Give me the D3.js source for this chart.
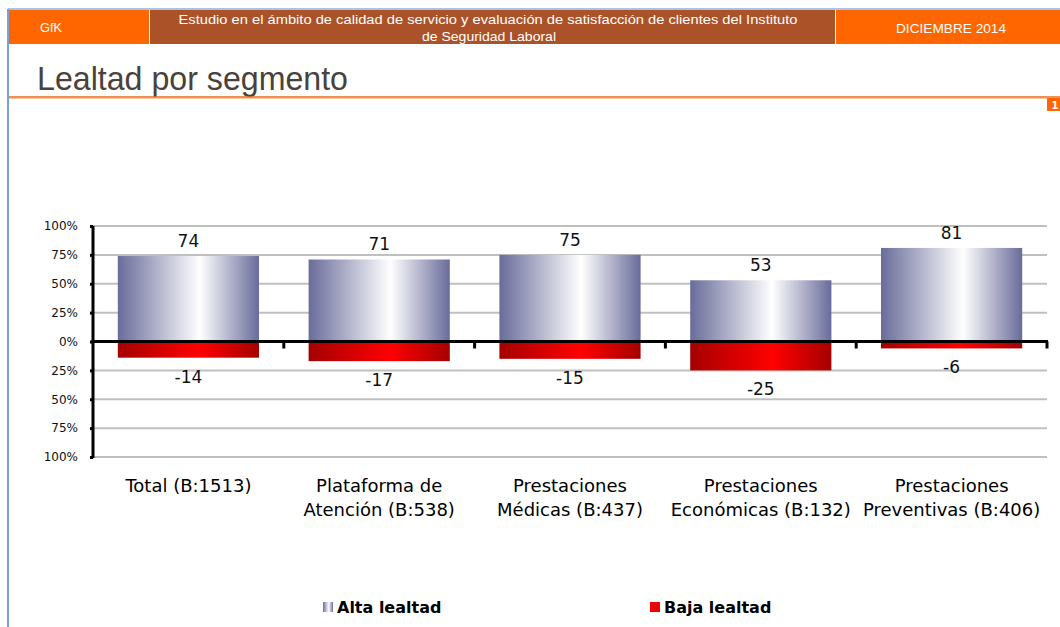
<!DOCTYPE html>
<html>
<head>
<meta charset="utf-8">
<script src="https://cdn.jsdelivr.net/npm/d3@7"></script>
<style>
  body { margin: 0; background: #fff; }
  svg { display: block; }
</style>
</head>
<body>
<div id="chart"></div>
<script>
// ---- data ----
const categories = [
  ["Total (B:1513)"],
  ["Plataforma de", "Atención (B:538)"],
  ["Prestaciones", "Médicas (B:437)"],
  ["Prestaciones", "Económicas (B:132)"],
  ["Prestaciones", "Preventivas (B:406)"]
];
const alta = [74, 71, 75, 53, 81];
const baja = [-14, -17, -15, -25, -6];
const yTicks = [-100, -75, -50, -25, 0, 25, 50, 75, 100];
const seriesNames = ["Alta lealtad", "Baja lealtad"];

const W = 1060, H = 627;
const svg = d3.select("#chart").append("svg")
  .attr("width", W).attr("height", H);

// gradients
const defs = svg.append("defs");
function grad(id, edge, mid) {
  const g = defs.append("linearGradient").attr("id", id)
    .attr("x1", "0%").attr("x2", "100%").attr("y1", "0%").attr("y2", "0%");
  g.append("stop").attr("offset", "0%").attr("stop-color", edge);
  g.append("stop").attr("offset", "58%").attr("stop-color", mid);
  g.append("stop").attr("offset", "100%").attr("stop-color", edge);
}
grad("gAlta", "#696c9a", "#ffffff");
grad("gBaja", "#a50000", "#ff0000");

// =====================
// PAGE FRAME / HEADER
// =====================
svg.append("line").attr("x1", 8).attr("x2", W).attr("y1", 9).attr("y2", 9)
  .attr("stroke", "#8fb0de").attr("stroke-width", 1.5);
svg.append("line").attr("x1", 8).attr("x2", 8).attr("y1", 9).attr("y2", H)
  .attr("stroke", "#7aa0d8").attr("stroke-width", 2);

svg.append("rect").attr("x", 9).attr("y", 10).attr("width", 140).attr("height", 34).attr("fill", "#ff6600");
svg.append("rect").attr("x", 150).attr("y", 10).attr("width", 685).attr("height", 34).attr("fill", "#ac5229");
svg.append("rect").attr("x", 836).attr("y", 10).attr("width", 224).attr("height", 34).attr("fill", "#ff6600");

const hdrFont = "Liberation Sans, Arial, sans-serif";
function hdrText(tx, ty, str, len) {
  svg.append("text").attr("x", tx).attr("y", ty).attr("text-anchor", "middle")
    .style("font-family", hdrFont).style("font-size", "13px").attr("fill", "#fff")
    .attr("textLength", len).attr("lengthAdjust", "spacingAndGlyphs")
    .text(str);
}
hdrText(51, 32, "GfK", 22);
hdrText(488, 24, "Estudio en el ámbito de calidad de servicio y evaluación de satisfacción de clientes del Instituto", 619);
hdrText(489, 41, "de Seguridad Laboral", 134);
hdrText(951, 33, "DICIEMBRE 2014", 110);

svg.append("text").attr("x", 37).attr("y", 90)
  .style("font-family", hdrFont).style("font-size", "34px").attr("fill", "#4a423a")
  .attr("textLength", 311).attr("lengthAdjust", "spacingAndGlyphs")
  .text("Lealtad por segmento");
svg.append("line").attr("x1", 9).attr("x2", W).attr("y1", 97).attr("y2", 97)
  .attr("stroke", "#ec6a1e").attr("stroke-width", 1.5);
svg.append("line").attr("x1", 9).attr("x2", W).attr("y1", 98.5).attr("y2", 98.5)
  .attr("stroke", "#f8c8a0").attr("stroke-width", 1);

svg.append("rect").attr("x", 1047).attr("y", 98).attr("width", 13).attr("height", 13).attr("fill", "#ff6600");
svg.append("text").attr("x", 1055).attr("y", 109).attr("text-anchor", "middle")
  .style("font-family", "DejaVu Sans, sans-serif").style("font-size", "10px").style("font-weight", "bold")
  .attr("fill", "#fff").text("1");

// =====================
// SCALES
// =====================
const font = "DejaVu Sans, Verdana, sans-serif";
const x0 = 93, x1 = 1047;
const x = d3.scaleBand()
  .domain(d3.range(categories.length))
  .range([x0, x1])
  .paddingInner(0.26)
  .paddingOuter(0.13);
const y = d3.scaleLinear().domain([-100, 100]).range([457, 226]);

// grid
svg.append("g").selectAll("line")
  .data(yTicks.filter(t => t !== 0))
  .join("line")
  .attr("x1", x0).attr("x2", x1)
  .attr("y1", d => y(d)).attr("y2", d => y(d))
  .attr("stroke", "#c0c0c0").attr("stroke-width", 2);

// y axis
const yAxis = svg.append("g")
  .attr("transform", `translate(${x0},0)`)
  .call(d3.axisLeft(y).tickValues(yTicks).tickSize(3).tickPadding(12)
    .tickFormat(d => Math.abs(d) + "%"));
yAxis.select(".domain").remove();
yAxis.selectAll(".tick line").attr("stroke", "#000").attr("stroke-width", 3);
yAxis.selectAll("text").style("font-family", font).style("font-size", "12px").attr("fill", "#111");

// =====================
// BARS
// =====================
svg.append("g").selectAll("rect")
  .data(alta)
  .join("rect")
  .attr("x", (d, i) => x(i))
  .attr("width", x.bandwidth())
  .attr("y", d => y(d))
  .attr("height", d => y(0) - y(d))
  .attr("fill", "url(#gAlta)");

svg.append("g").selectAll("rect")
  .data(baja)
  .join("rect")
  .attr("x", (d, i) => x(i))
  .attr("width", x.bandwidth())
  .attr("y", y(0))
  .attr("height", d => y(d) - y(0))
  .attr("fill", "url(#gBaja)");

// axis lines
svg.append("line").attr("x1", x0).attr("x2", x0).attr("y1", y(100)).attr("y2", y(-100) + 1)
  .attr("stroke", "#000").attr("stroke-width", 3);
svg.append("line").attr("x1", x0).attr("x2", x1 + 1).attr("y1", y(0)).attr("y2", y(0))
  .attr("stroke", "#000").attr("stroke-width", 3);

// category boundary ticks
const step = x.step();
svg.append("g").selectAll("line")
  .data(d3.range(1, categories.length + 1))
  .join("line")
  .attr("x1", i => x(i - 1) + x.bandwidth() + step * 0.13)
  .attr("x2", i => x(i - 1) + x.bandwidth() + step * 0.13)
  .attr("y1", y(0)).attr("y2", y(0) + 7)
  .attr("stroke", "#000").attr("stroke-width", 3);

// value labels
svg.append("g").selectAll("text")
  .data(alta)
  .join("text")
  .attr("x", (d, i) => x(i) + x.bandwidth() / 2)
  .attr("y", d => y(d) - 9)
  .attr("text-anchor", "middle")
  .style("font-family", font).style("font-size", "17px").attr("fill", "#111")
  .text(d => d);

svg.append("g").selectAll("text")
  .data(baja)
  .join("text")
  .attr("x", (d, i) => x(i) + x.bandwidth() / 2)
  .attr("y", d => y(d) + 25)
  .attr("text-anchor", "middle")
  .style("font-family", font).style("font-size", "17px").attr("fill", "#111")
  .text(d => d);

// category labels
const cat = svg.append("g").selectAll("text")
  .data(categories)
  .join("text")
  .attr("text-anchor", "middle")
  .style("font-family", font).style("font-size", "18px").attr("fill", "#000");
cat.selectAll("tspan")
  .data((d, i) => d.map(line => ({ line, i })))
  .join("tspan")
  .attr("x", d => x(d.i) + x.bandwidth() / 2)
  .attr("y", (d, j) => 492 + j * 24)
  .text(d => d.line);

// =====================
// LEGEND
// =====================
const legendX = [323, 650];
const legendFill = ["url(#gAlta)", "#ee0000"];
const lg = svg.append("g").selectAll("g")
  .data(seriesNames)
  .join("g")
  .attr("transform", (d, i) => `translate(${legendX[i]},602)`);
lg.append("rect").attr("width", 10).attr("height", 10)
  .attr("fill", (d, i) => legendFill[i]);
lg.append("text").attr("x", 14).attr("y", 11)
  .style("font-family", font).style("font-size", "16px").style("font-weight", "bold")
  .attr("fill", "#000").text(d => d);
</script>
</body>
</html>
